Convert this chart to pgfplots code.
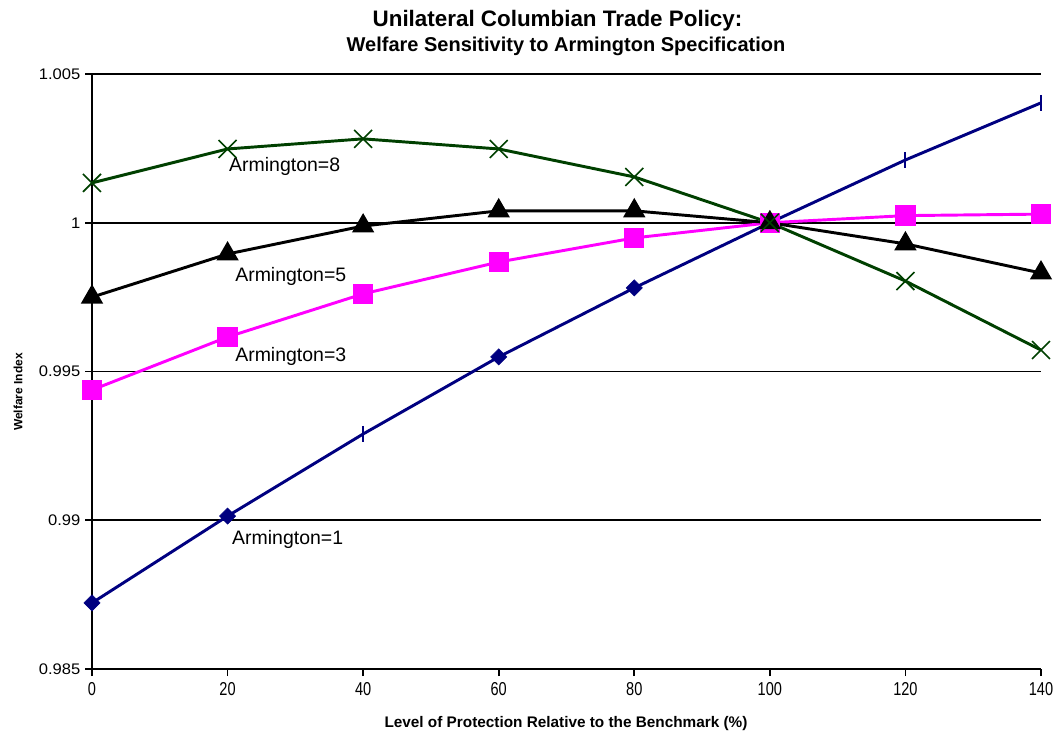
\documentclass[border=0pt]{standalone}
\usepackage{pgfplots}
\pgfplotsset{compat=1.18}
\usepackage{fontspec}
\setmainfont{Liberation Sans}
\newfontfamily\xtfont{Liberation Sans}[FakeStretch=0.78]
\newfontfamily\ytfont{Liberation Sans}[FakeStretch=1.08]
\definecolor{navyc}{RGB}{0,0,128}
\definecolor{magc}{RGB}{255,0,255}
\definecolor{greenc}{RGB}{0,64,0}
\pgfplotstableread{
x y
0 0.98722
20 0.99014
40 0.99290
60 0.99549
80 0.99781
100 1.00000
120 1.00211
140 1.00403
}\armone
\pgfplotstableread{
x y
0 0.99438
20 0.99616
40 0.99761
60 0.99868
80 0.99949
100 1.00000
120 1.00024
140 1.00029
}\armthree
\pgfplotstableread{
x y
0 0.99750
20 0.99895
40 0.99989
60 1.00040
80 1.00040
100 1.00000
120 0.99929
140 0.99831
}\armfive
\pgfplotstableread{
x y
0 1.00134
20 1.00248
40 1.00282
60 1.00248
80 1.00154
100 1.00000
120 0.99804
140 0.99572
}\armeight
\begin{document}
\begin{tikzpicture}
\begin{axis}[
  at={(0,0)}, anchor=south west,
  scale only axis,
  width=711.75pt, height=446.25pt,
  xmin=0, xmax=140, ymin=0.985, ymax=1.005,
  xtick={0,20,...,140},
  ytick={0.985,0.99,0.995,1,1.005},
  yticklabels={0.985,0.99,0.995,1,1.005},
  axis lines*=left,
  axis line style={black, line width=1.3pt, -},
  tick align=outside,
  major tick length=5.25pt,
  tick style={black, line width=1.3pt},
  ymajorgrids,
  grid style={black, line width=1.4pt},
  /pgf/number format/assume math mode=true,
  xticklabel style={font=\xtfont\fontsize{14}{15}\selectfont, yshift=-1pt},
  yticklabel style={font=\ytfont\fontsize{11.5}{12}\selectfont},
  clip=false,
]
\addplot[navyc, line width=2.2pt, mark=none] table {\armone};
\addplot[navyc, only marks, mark=square*, mark size=4.3pt, mark options={rotate=45}] table {
x y
0 0.98722
20 0.99014
60 0.99549
80 0.99781
100 1.00000
};
\addplot[navyc, only marks, mark=|, mark size=6pt, mark options={line width=1.5pt}] table {
x y
40 0.99290
120 1.00211
140 1.00403
};
\addplot[magc, line width=2.2pt, mark=square*, mark size=6.5pt] table {\armthree};
\addplot[black, line width=2.2pt, mark=triangle*, mark size=7.5pt] table {\armfive};
\addplot[greenc, line width=2.2pt, mark=x, mark size=9.5pt, mark options={line width=1.2pt}] table {\armeight};
\node[anchor=base west, inner sep=0, font=\fontsize{14.6}{16}\selectfont] at (axis cs:20.2,1.00171) {Armington=8};
\node[anchor=base west, inner sep=0, font=\fontsize{14.6}{16}\selectfont] at (axis cs:21.1,0.99801) {Armington=5};
\node[anchor=base west, inner sep=0, font=\fontsize{14.6}{16}\selectfont] at (axis cs:21.1,0.99532) {Armington=3};
\node[anchor=base west, inner sep=0, font=\fontsize{14.6}{16}\selectfont] at (axis cs:20.65,0.98920) {Armington=1};
\end{axis}
\node[anchor=base, inner sep=0, font=\bfseries\fontsize{16.8}{18}\selectfont] at ({465.5*0.75pt},{642*0.75pt}) {Unilateral Columbian Trade Policy:};
\node[anchor=base, inner sep=0, font=\bfseries\fontsize{15}{16}\selectfont] at ({474*0.75pt},{617*0.75pt}) {Welfare Sensitivity to Armington Specification};
\node[anchor=center, rotate=90, inner sep=0, font=\bfseries\fontsize{9}{10}\selectfont] at ({-74*0.75pt},{277*0.75pt}) {Welfare Index};
\node[anchor=base, inner sep=0, font=\bfseries\fontsize{11.5}{13}\selectfont] at ({474*0.75pt},{-58*0.75pt}) {Level of Protection Relative to the Benchmark (\%)};
\pgfresetboundingbox
\path (-69pt,-50.25pt) rectangle (723.75pt,501.75pt);
\end{tikzpicture}
\end{document}
